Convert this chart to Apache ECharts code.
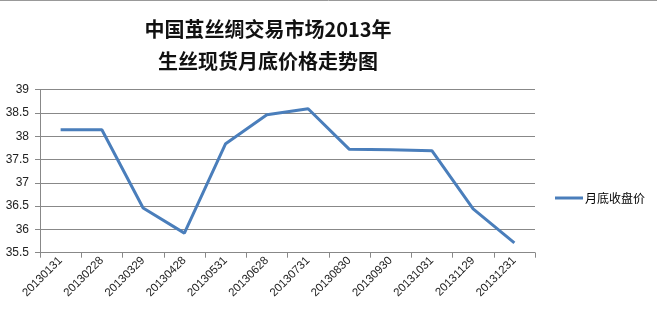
<!DOCTYPE html>
<html><head><meta charset="utf-8">
<script src="https://cdn.jsdelivr.net/npm/echarts@6/dist/echarts.min.js"></script>
<style>html,body{margin:0;padding:0;background:#fff}#c{width:657px;height:319px}</style>
</head><body><div id="c"></div>
<script>
const categories = ['20130131','20130228','20130329','20130428','20130531','20130628','20130731','20130830','20130930','20131031','20131129','20131231'];
const prices = [38.14, 38.14, 36.46, 35.92, 37.84, 38.46, 38.59, 37.72, 37.71, 37.69, 36.44, 35.71];
const seriesName = '月底收盘价';
const titleText = '中国茧丝绸交易市场2013年\n生丝现货月底价格走势图';

const chart = echarts.init(document.getElementById('c'));
chart.setOption({
  animation: false,
  backgroundColor: '#fff',
  title: {
    text: titleText,
    left: 263, top: 8, textAlign: 'center',
    textStyle: { fontFamily: 'Noto Sans CJK SC', fontSize: 20, fontWeight: 'bold', color: '#111', lineHeight: 32 }
  },
  legend: {
    orient: 'vertical', left: 550, top: 187,
    itemWidth: 28, itemHeight: 3, itemGap: 4,
    icon: 'rect',
    textStyle: { fontFamily: 'Noto Sans CJK SC', fontSize: 12, color: '#000', padding: [0,0,0,-3] },
    data: [seriesName]
  },
  graphic: [{ type: 'line', shape: { x1: 0, y1: 0.5, x2: 657, y2: 0.5 }, style: { stroke: '#999', lineWidth: 1 } }],
  grid: { left: 40, right: 122, top: 89.7, bottom: 66.3, containLabel: false },
  xAxis: {
    type: 'category', data: categories, boundaryGap: true,
    axisLine: { lineStyle: { color: '#888' } },
    axisTick: { show: true, length: 5, lineStyle: { color: '#888' }, alignWithLabel: false },
    axisLabel: { rotate: 45, fontFamily: 'Liberation Sans', fontSize: 11.5, color: '#222', margin: 6 }
  },
  yAxis: {
    type: 'value', min: 35.5, max: 39, interval: 0.5,
    axisLine: { show: true, lineStyle: { color: '#888' } },
    axisTick: { show: true, length: 5, inside: false, lineStyle: { color: '#888' } },
    splitLine: { lineStyle: { color: '#888', width: 1 } },
    axisLabel: { fontFamily: 'Liberation Sans', fontSize: 12, color: '#222', margin: 11 }
  },
  series: [{
    name: seriesName, type: 'line', data: prices,
    symbol: 'none', lineStyle: { color: '#4a7ebb', width: 3 }, itemStyle: { color: '#4a7ebb' }
  }]
});
</script></body></html>
